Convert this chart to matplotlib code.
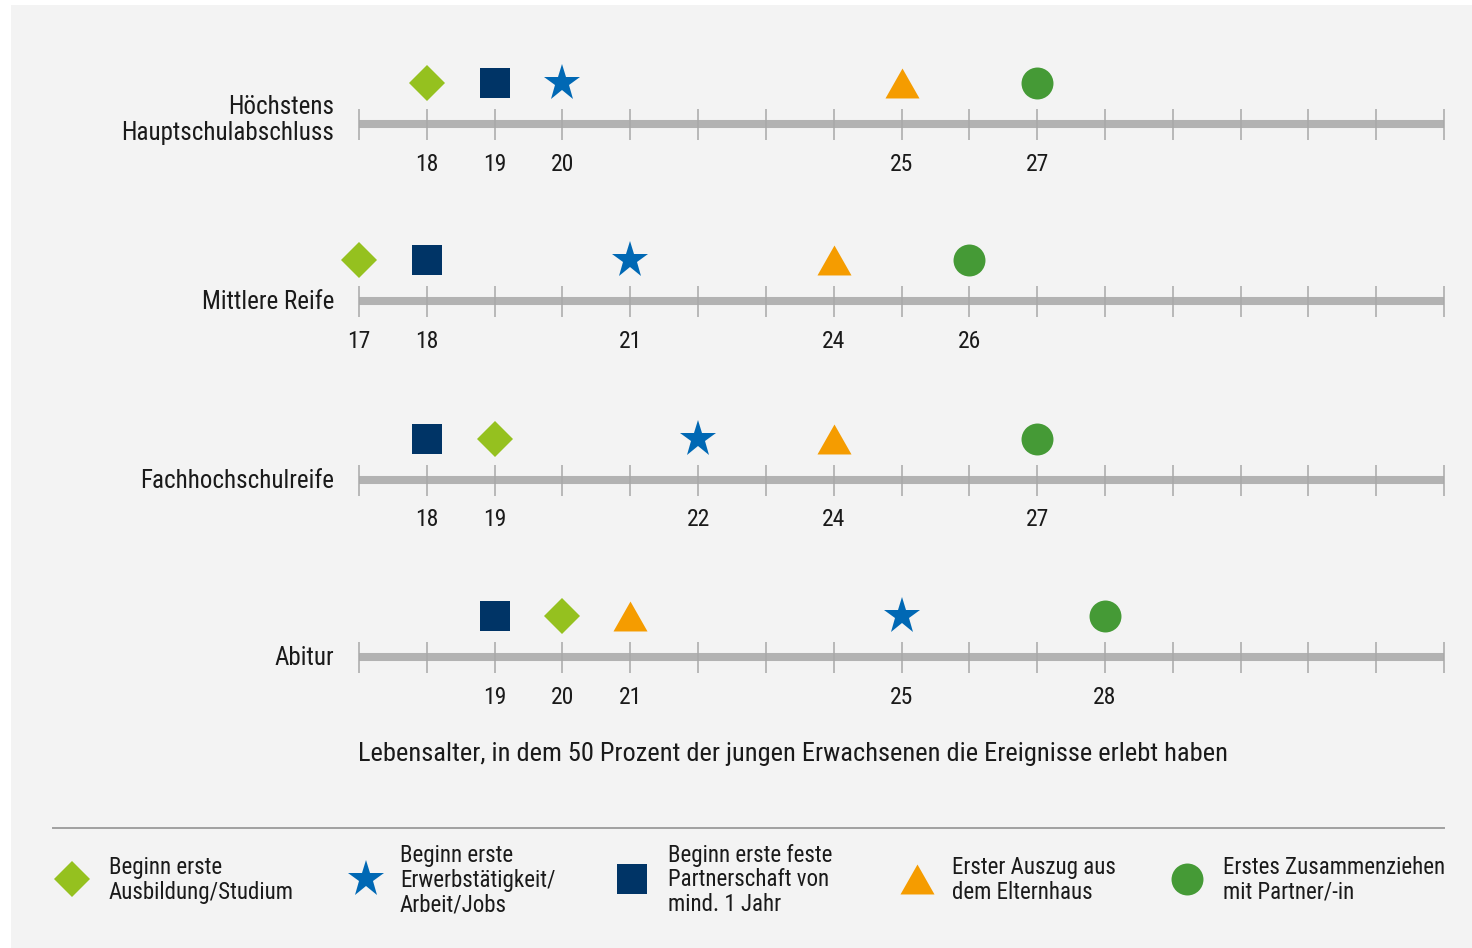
import os
import matplotlib
matplotlib.use("Agg")
import matplotlib.pyplot as plt
from matplotlib import font_manager as fm
from matplotlib.font_manager import FontProperties
from matplotlib.patches import Rectangle
import numpy as np

# ---------------- data ----------------
rows = ["Höchstens\nHauptschulabschluss", "Mittlere Reife", "Fachhochschulreife", "Abitur"]
ausbildung = [18, 17, 19, 20]      # Beginn erste Ausbildung/Studium
erwerb = [20, 21, 22, 25]          # Beginn erste Erwerbstätigkeit/Arbeit/Jobs
partner = [19, 18, 18, 19]         # Beginn erste feste Partnerschaft
auszug = [25, 24, 24, 21]          # Erster Auszug aus dem Elternhaus
zusammen = [27, 26, 27, 28]        # Erstes Zusammenziehen mit Partner/-in
tick_years = list(range(17, 34))
legend_labels = [
    "Beginn erste\nAusbildung/Studium",
    "Beginn erste\nErwerbstätigkeit/\nArbeit/Jobs",
    "Beginn erste feste\nPartnerschaft von\nmind. 1 Jahr",
    "Erster Auszug aus\ndem Elternhaus",
    "Erstes Zusammenziehen\nmit Partner/-in",
]
xlabel = "Lebensalter, in dem 50 Prozent der jungen Erwachsenen die Ereignisse erlebt haben"

tri = [(-1, -0.88), (1, -0.88), (0, 0.88), (-1, -0.88)]
series = [
    (ausbildung, "D", 18, "#95c11f"),
    (erwerb, "*", 28, "#0068b4"),
    (partner, "s", 21.5, "#003466"),
    (auszug, tri, 24.5, "#f59c00"),
    (zusammen, "o", 23, "#459a36"),
]

# ---------------- font ----------------
def pick_font():
    prefs = ["RobotoCondensed-Regular", "LiberationSansNarrow-Regular",
             "OpenSans_Condensed-Regular", "OpenSansCondensed-Regular",
             "NotoSans-Condensed.", "DejaVuSansCondensed.",
             "Roboto-Regular", "OpenSans-Regular"]
    files = [f.fname for f in fm.fontManager.ttflist]
    for p in prefs:
        for fn in files:
            if os.path.basename(fn).startswith(p):
                return fn
    return None

fpath = pick_font()
def fprop(size):
    if fpath:
        return FontProperties(fname=fpath, size=size)
    return FontProperties(family="DejaVu Sans", size=size)

TXT = "#1a1a1a"
FS_ROW, FS_TICK, FS_XLAB, FS_LEG = 18, 17, 19, 16.5

# ---------------- layout ----------------
W, H = 1472, 948
fig = plt.figure(figsize=(W / 100, H / 100), dpi=100, facecolor="white")
fig.patches.append(Rectangle((11 / W, 0), 1, 1 - 5 / H, transform=fig.transFigure,
                             fc="#f3f3f3", ec="none", zorder=-10))
ax = fig.add_axes([0, 0, 1, 1])
ax.set_facecolor("none")
k = (1444 - 359) / 16.0
X0 = 17 - 359 / k
X1 = 17 + (W - 359) / k
ax.set_xlim(X0, X1)
ax.set_ylim(H, 0)
ax.axis("off")

def px2x(px):
    return X0 + px / k

row_y = [124, 301, 480, 657]

for i, ly in enumerate(row_y):
    ax.plot([tick_years[0], tick_years[-1]], [ly, ly], color="#b2b2b2", lw=5.8,
            solid_capstyle="butt", zorder=1)
    ax.vlines(tick_years, ly - 15, ly + 16, color="#a8a8a8", lw=1.1, zorder=2)
    label_y = ly - 4 if "\n" in rows[i] else ly + 1
    ax.text(px2x(334), label_y, rows[i], ha="right", va="center", ma="right",
            color=TXT, fontproperties=fprop(FS_ROW), linespacing=1.1)
    vals = sorted({s[0][i] for s in series})
    for v in vals:
        ax.text(v, ly + 40, str(v), ha="center", va="center", color=TXT,
                fontproperties=fprop(FS_TICK))

for vals, mk, ms, col in series:
    ax.plot(vals, [y - 41 for y in row_y], linestyle="none", marker=mk, ms=ms,
            color=col, mec=col, mew=0, zorder=3)

ax.text(px2x(358), 754, xlabel, ha="left", va="center", color=TXT,
        fontproperties=fprop(FS_XLAB))

ax.plot([px2x(53), px2x(1444)], [828, 828], color="#a0a0a0", lw=1.4)

leg_mx = [72, 366, 632, 917, 1187]
leg_tx = [109, 400, 668, 952, 1223]
for (vals, mk, ms, col), lab, mx, tx in zip(series, legend_labels, leg_mx, leg_tx):
    ax.plot([px2x(mx)], [879], linestyle="none", marker=mk, ms=ms, color=col,
            mec=col, mew=0)
    ax.text(px2x(tx), 880, lab, ha="left", va="center", color=TXT,
            fontproperties=fprop(FS_LEG), linespacing=1.1)

fig.savefig("out.png", dpi=100, facecolor="white")
